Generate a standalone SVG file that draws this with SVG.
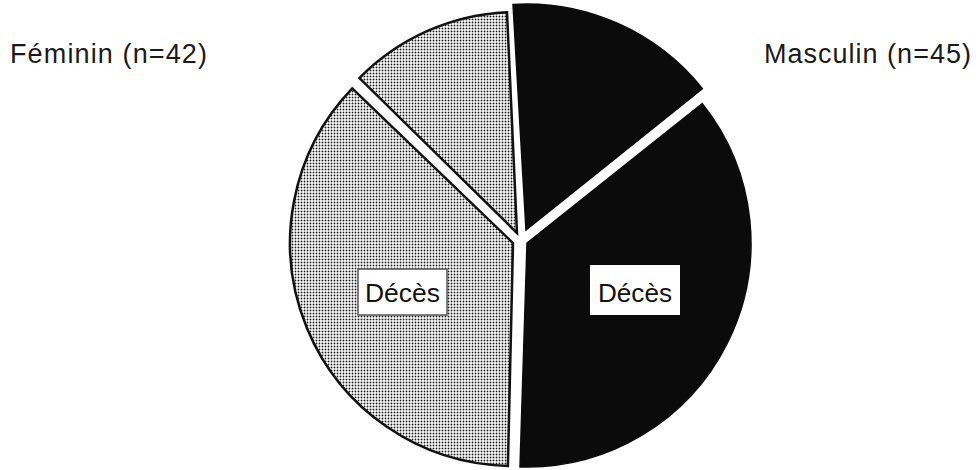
<svg xmlns="http://www.w3.org/2000/svg" width="979" height="470" viewBox="0 0 979 470">
  <defs>
    <pattern id="stipple" patternUnits="userSpaceOnUse" width="3" height="3">
      <rect width="3" height="3" fill="#ffffff"/>
      <circle cx="1.5" cy="1.5" r="0.95" fill="#222222"/>
    </pattern>
  </defs>
  <style>
    .light { fill: url(#stipple); stroke: #111111; stroke-width: 2.5; stroke-linejoin: miter; }
    .dark { fill: #0b0b0b; stroke: #0b0b0b; stroke-width: 1.5; }
    .title { font-family: "Liberation Sans", Arial, sans-serif; font-size: 27px; fill: #1a1a1a; }
    .lbl { font-family: "Liberation Sans", Arial, sans-serif; font-size: 26px; fill: #111111; }
    .box { fill: #ffffff; }
  </style>
  <rect width="979" height="470" fill="#ffffff"/>

  <g id="title-feminin">
    <text class="title" x="10" y="63" textLength="197" lengthAdjust="spacing">Féminin (n=42)</text>
  </g>
  <g id="title-masculin">
    <text class="title" x="764" y="63" textLength="207" lengthAdjust="spacing">Masculin (n=45)</text>
  </g>

  <g id="slice-fem-small">
    <path class="light" d="M517,233 L359.4,78.1 A221,221 0 0 1 507,12.2 Z"/>
  </g>
  <g id="slice-fem-deces">
    <path class="light" d="M513,243 L507.9,465.9 A223,223 0 0 1 352.3,88.4 Z"/>
    <rect class="box" x="358" y="269" width="89" height="46" stroke="#555555" stroke-width="1.5"/>
    <text class="lbl" x="365" y="302" textLength="75" lengthAdjust="spacingAndGlyphs">Décès</text>
  </g>
  <g id="slice-masc-small">
    <path class="dark" d="M526,230 L513,4.4 A226,226 0 0 1 702.4,88.7 Z"/>
  </g>
  <g id="slice-masc-deces">
    <path class="dark" d="M527,243 L702.3,103.6 A224,224 0 0 1 520,466.9 Z"/>
    <rect class="box" x="590" y="265" width="90" height="50"/>
    <text class="lbl" x="598" y="302" textLength="74" lengthAdjust="spacingAndGlyphs">Décès</text>
  </g>
  <g id="connectors"></g>
</svg>
